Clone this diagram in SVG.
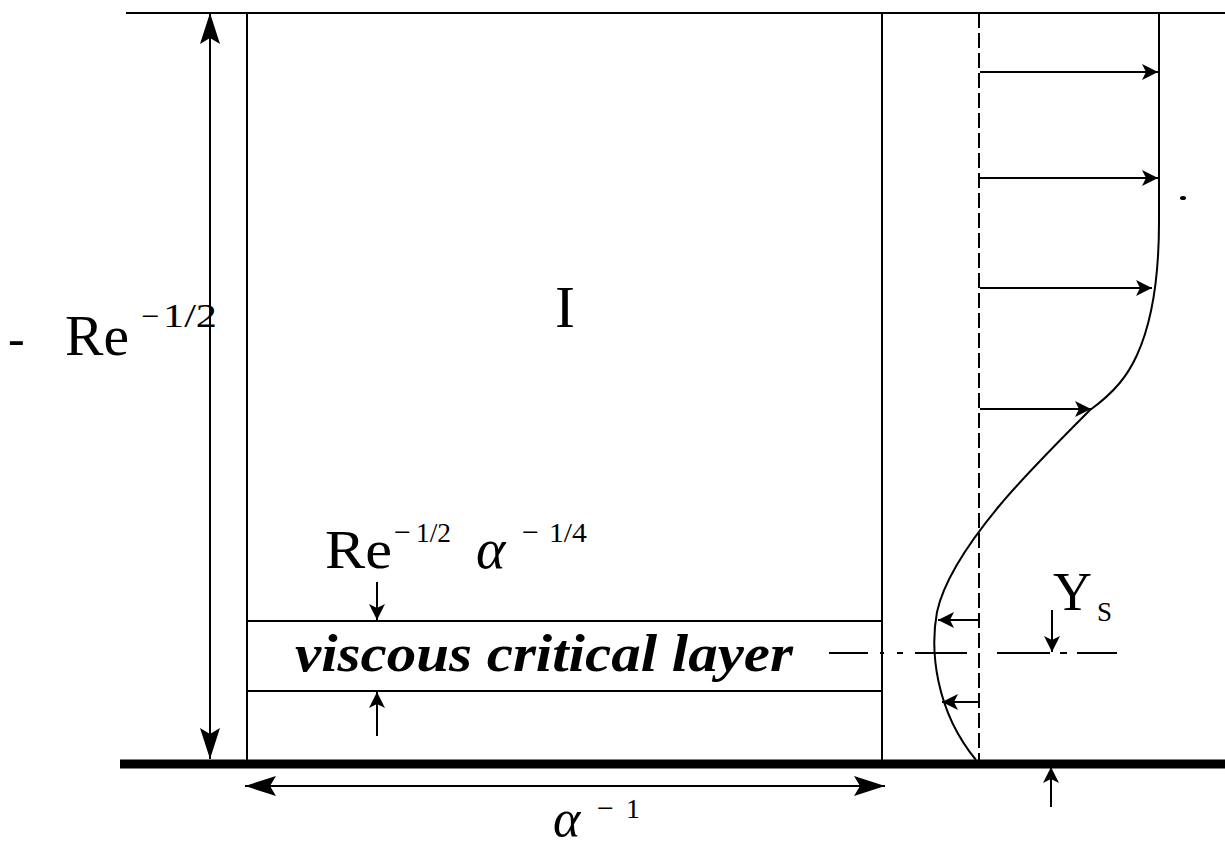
<svg xmlns="http://www.w3.org/2000/svg" width="1225" height="846" viewBox="0 0 1225 846">
<style>
  .ln { stroke: #000; stroke-width: 2; fill: none; }
  .serif { font-family: "Liberation Serif", "Times New Roman", serif; fill: #000; }
  .it { font-style: italic; }
</style>
<defs>
  <marker id="big" markerUnits="userSpaceOnUse" markerWidth="40" markerHeight="40" refX="0" refY="0" orient="auto-start-reverse" overflow="visible" viewBox="-40 -20 40 40">
    <path d="M0,0 L-31,-10 L-25,0 L-31,10 Z" fill="#000"/>
  </marker>
  <marker id="sm" markerUnits="userSpaceOnUse" markerWidth="30" markerHeight="30" refX="0" refY="0" orient="auto" overflow="visible" viewBox="-30 -15 30 30">
    <path d="M0,0 L-16,-8 L-12,0 L-16,8 Z" fill="#000"/>
  </marker>
</defs>
<rect width="1225" height="846" fill="#fff"/>

<g id="walls">
  <line class="ln" x1="126" y1="13" x2="1225" y2="13"/>
  <line x1="120" y1="764" x2="1225" y2="764" stroke="#000" stroke-width="9"/>
</g>

<g id="region-I">
  <line class="ln" x1="247" y1="13" x2="247" y2="760"/>
  <line class="ln" x1="882" y1="13" x2="882" y2="760"/>
  <text class="serif" x="565" y="327" font-size="60" text-anchor="middle">I</text>
</g>

<g id="critical-layer">
  <line class="ln" x1="247" y1="621" x2="882" y2="621"/>
  <line class="ln" x1="247" y1="691" x2="882" y2="691"/>
  <text class="serif it" x="295" y="671" font-size="52" font-weight="bold" textLength="498" lengthAdjust="spacingAndGlyphs">viscous critical layer</text>
</g>

<g id="label-Re-height">
  <text class="serif" x="8" y="355" font-size="50">-</text>
  <text class="serif" x="65" y="355" font-size="56" textLength="64" lengthAdjust="spacingAndGlyphs">Re</text>
  <text class="serif" x="141" y="327" font-size="32">−</text>
  <text class="serif" x="163" y="327" font-size="33" textLength="54" lengthAdjust="spacingAndGlyphs">1/2</text>
</g>

<g id="label-layer-thickness">
  <text class="serif" x="325" y="568" font-size="54" textLength="67" lengthAdjust="spacingAndGlyphs">Re</text>
  <text class="serif" x="394" y="542" font-size="30">−</text>
  <text class="serif" x="416" y="542" font-size="27" textLength="35" lengthAdjust="spacingAndGlyphs">1/2</text>
  <text class="serif it" x="476" y="568" font-size="56">α</text>
  <text class="serif" x="522" y="542" font-size="30">−</text>
  <text class="serif" x="549" y="542" font-size="27" textLength="38" lengthAdjust="spacingAndGlyphs">1/4</text>
</g>

<g id="label-alpha">
  <text class="serif it" x="553" y="836" font-size="52">α</text>
  <text class="serif" x="597" y="818" font-size="30">−</text>
  <text class="serif" x="626" y="818" font-size="28">1</text>
</g>

<g id="label-Ys">
  <text class="serif" x="1053" y="610" font-size="54">Y</text>
  <text class="serif" x="1097" y="621" font-size="27">S</text>
</g>

<g id="profile">
  <line class="ln" x1="979" y1="13" x2="979" y2="760" stroke-dasharray="15 5"/>
  <path class="ln" d="M1159,13 V222 C1159,270 1153,320 1137,355 C1128,375 1115,392 1090,410 C1060,440 1025,475 1000,505 C975,535 945,575 937,612 C930,650 935,710 976,760"/>
</g>

<g id="connectors">
  <line class="ln" x1="210" y1="13" x2="210" y2="759" marker-start="url(#big)" marker-end="url(#big)"/>
  <line class="ln" x1="245" y1="786" x2="885" y2="786" marker-start="url(#big)" marker-end="url(#big)"/>
  <line class="ln" x1="980" y1="72" x2="1158" y2="72" marker-end="url(#sm)"/>
  <line class="ln" x1="980" y1="178" x2="1158" y2="178" marker-end="url(#sm)"/>
  <line class="ln" x1="980" y1="288" x2="1152" y2="288" marker-end="url(#sm)"/>
  <line class="ln" x1="980" y1="409" x2="1091" y2="409" marker-end="url(#sm)"/>
  <line class="ln" x1="979" y1="620" x2="938" y2="620" marker-end="url(#sm)"/>
  <line class="ln" x1="979" y1="702" x2="942" y2="702" marker-end="url(#sm)"/>
  <line class="ln" x1="377" y1="582" x2="377" y2="620" marker-end="url(#sm)"/>
  <line class="ln" x1="377" y1="736" x2="377" y2="692" marker-end="url(#sm)"/>
  <line class="ln" x1="1052" y1="610" x2="1052" y2="652" marker-end="url(#sm)"/>
  <line class="ln" x1="1051" y1="807" x2="1051" y2="767" marker-end="url(#sm)"/>
  <path class="ln" d="M829,653 H868 M880,653 H884 M897,653 H903 M915,653 H967 M997,653 H1050 M1060,653 H1067 M1077,653 H1117"/>
</g>

<g id="specks">
  <ellipse cx="1183" cy="198" rx="3" ry="2" fill="#000"/>
</g>
</svg>
